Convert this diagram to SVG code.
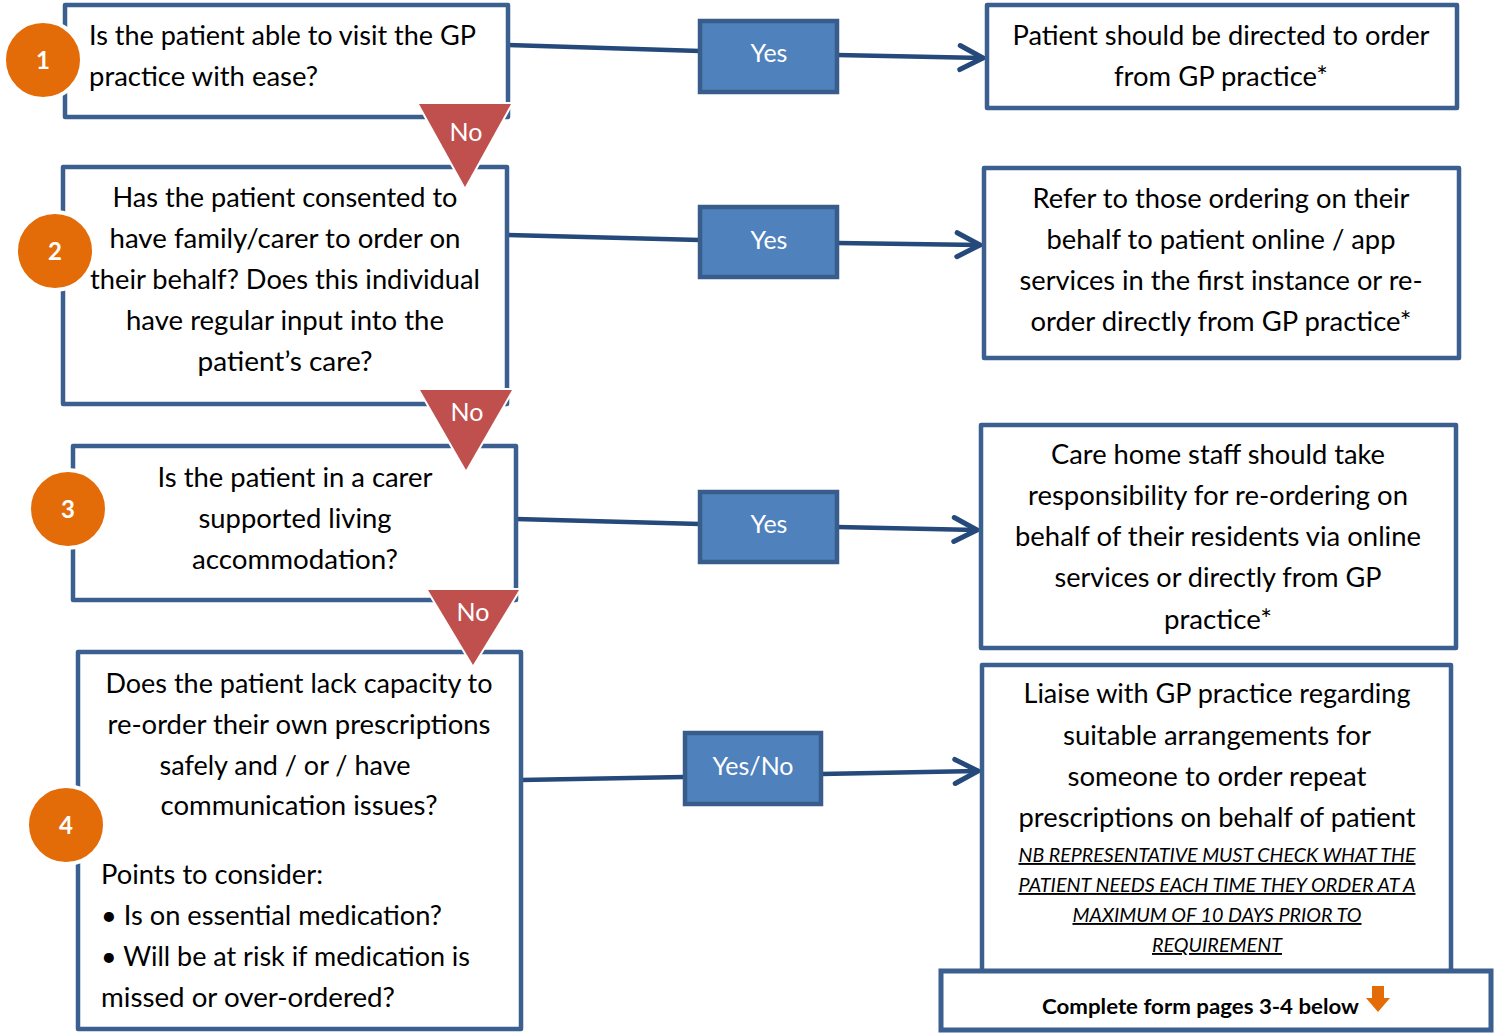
<svg xmlns="http://www.w3.org/2000/svg" width="1495" height="1034" viewBox="0 0 1495 1034">
<defs>
<style>
.box{fill:#fff;stroke:#3B5F8F;stroke-width:4.5;stroke-linejoin:round}
.yes{fill:#4F81BD;stroke:#385D8A;stroke-width:4.5}
.tri{fill:#C0504D;stroke:#fff;stroke-width:4;paint-order:stroke}
.num{fill:#E36C09;stroke:#fff;stroke-width:4}
.t{font-family:Lato,"Open Sans",sans-serif;font-size:26px;fill:#000}
.c{text-anchor:middle}
.w{font-family:Lato,"Open Sans",sans-serif;font-size:25px;fill:#fff;text-anchor:middle}
.n{font-family:Lato,"Open Sans",sans-serif;font-size:24px;font-weight:bold;fill:#fff;text-anchor:middle}
.nb{font-family:Lato,"Open Sans",sans-serif;font-size:19px;font-style:italic;text-decoration:underline;fill:#000;text-anchor:middle}
.con{fill:none;stroke:#24497A;stroke-width:4.5;stroke-linecap:round}
</style>
<marker id="arr" markerUnits="userSpaceOnUse" viewBox="-30 -16 34 32" refX="0" refY="0" markerWidth="34" markerHeight="32" orient="auto" overflow="visible">
<path d="M-23,-12 L0,0 L-23,12" fill="none" stroke="#24497A" stroke-width="5" stroke-linecap="round" stroke-linejoin="round"/>
</marker>
</defs>
<rect width="1495" height="1034" fill="#fff"/>

<g id="connectors">
<path class="con" d="M508,45 L700,51"/>
<path class="con" d="M837,55 L983,58" marker-end="url(#arr)"/>
<path class="con" d="M507,235 L700,240"/>
<path class="con" d="M837,243 L980,245" marker-end="url(#arr)"/>
<path class="con" d="M516,519 L700,524"/>
<path class="con" d="M837,527 L977,530" marker-end="url(#arr)"/>
<path class="con" d="M521,780 L684,777"/>
<path class="con" d="M821,774 L978,771" marker-end="url(#arr)"/>
</g>

<g id="q1">
<rect class="box" x="65" y="5" width="443" height="112"/>
<text class="t" x="89" y="45" textLength="387" lengthAdjust="spacingAndGlyphs">Is the patient able to visit the GP</text>
<text class="t" x="89" y="86" textLength="229" lengthAdjust="spacingAndGlyphs">practice with ease?</text>
</g>
<g id="q2">
<rect class="box" x="63" y="167" width="444" height="237"/>
<text class="t c" x="285" y="207" textLength="345" lengthAdjust="spacingAndGlyphs">Has the patient consented to</text>
<text class="t c" x="285" y="248" textLength="351" lengthAdjust="spacingAndGlyphs">have family/carer to order on</text>
<text class="t c" x="285" y="289" textLength="390" lengthAdjust="spacingAndGlyphs">their behalf? Does this individual</text>
<text class="t c" x="285" y="330" textLength="318" lengthAdjust="spacingAndGlyphs">have regular input into the</text>
<text class="t c" x="285" y="371" textLength="175" lengthAdjust="spacingAndGlyphs">patient’s care?</text>
</g>
<g id="q3">
<rect class="box" x="73" y="446" width="443" height="154"/>
<text class="t c" x="295" y="487" textLength="275" lengthAdjust="spacingAndGlyphs">Is the patient in a carer</text>
<text class="t c" x="295" y="528" textLength="193" lengthAdjust="spacingAndGlyphs">supported living</text>
<text class="t c" x="295" y="569" textLength="206" lengthAdjust="spacingAndGlyphs">accommodation?</text>
</g>
<g id="q4">
<rect class="box" x="78" y="652" width="443" height="377"/>
<text class="t c" x="299" y="693" textLength="387" lengthAdjust="spacingAndGlyphs">Does the patient lack capacity to</text>
<text class="t c" x="299" y="734" textLength="383" lengthAdjust="spacingAndGlyphs">re-order their own prescriptions</text>
<text class="t c" x="285" y="775" textLength="251" lengthAdjust="spacingAndGlyphs">safely and / or / have</text>
<text class="t c" x="299" y="815" textLength="277" lengthAdjust="spacingAndGlyphs">communication issues?</text>
<text class="t" x="101" y="884" textLength="222" lengthAdjust="spacingAndGlyphs">Points to consider:</text>
<text class="t" x="101" y="925" textLength="341" lengthAdjust="spacingAndGlyphs">• Is on essential medication?</text>
<text class="t" x="101" y="966" textLength="369" lengthAdjust="spacingAndGlyphs">• Will be at risk if medication is</text>
<text class="t" x="101" y="1007" textLength="294" lengthAdjust="spacingAndGlyphs">missed or over-ordered?</text>
</g>

<g id="n1"><circle class="num" cx="43" cy="60" r="39"/><text class="n" x="43" y="69">1</text></g>
<g id="n2"><circle class="num" cx="55" cy="251" r="39"/><text class="n" x="55" y="260">2</text></g>
<g id="n3"><circle class="num" cx="68" cy="509" r="39"/><text class="n" x="68" y="518">3</text></g>
<g id="n4"><circle class="num" cx="66" cy="825" r="39"/><text class="n" x="66" y="834">4</text></g>

<g id="no1"><polygon class="tri" points="419,104 511,104 465,187"/><text class="w" x="466" y="141">No</text></g>
<g id="no2"><polygon class="tri" points="420,390 512,390 466,470"/><text class="w" x="467" y="421">No</text></g>
<g id="no3"><polygon class="tri" points="428,590 519,590 473,665"/><text class="w" x="473" y="621">No</text></g>

<g id="yes1"><rect class="yes" x="700" y="21" width="137" height="71"/><text class="w" x="769" y="62">Yes</text></g>
<g id="yes2"><rect class="yes" x="700" y="207" width="137" height="70"/><text class="w" x="769" y="249">Yes</text></g>
<g id="yes3"><rect class="yes" x="700" y="492" width="137" height="70"/><text class="w" x="769" y="533">Yes</text></g>
<g id="yesno"><rect class="yes" x="685" y="733" width="136" height="71"/><text class="w" x="753" y="775">Yes/No</text></g>

<g id="r1">
<rect class="box" x="987" y="5" width="470" height="103"/>
<text class="t c" x="1221" y="45" textLength="417" lengthAdjust="spacingAndGlyphs">Patient should be directed to order</text>
<text class="t c" x="1221" y="86" textLength="214" lengthAdjust="spacingAndGlyphs">from GP practice*</text>
</g>
<g id="r2">
<rect class="box" x="984" y="168" width="475" height="190"/>
<text class="t c" x="1221" y="208" textLength="377" lengthAdjust="spacingAndGlyphs">Refer to those ordering on their</text>
<text class="t c" x="1221" y="249" textLength="349" lengthAdjust="spacingAndGlyphs">behalf to patient online / app</text>
<text class="t c" x="1221" y="290" textLength="403" lengthAdjust="spacingAndGlyphs">services in the first instance or re-</text>
<text class="t c" x="1221" y="331" textLength="381" lengthAdjust="spacingAndGlyphs">order directly from GP practice*</text>
</g>
<g id="r3">
<rect class="box" x="981" y="425" width="475" height="223"/>
<text class="t c" x="1218" y="464" textLength="334" lengthAdjust="spacingAndGlyphs">Care home staff should take</text>
<text class="t c" x="1218" y="505" textLength="380" lengthAdjust="spacingAndGlyphs">responsibility for re-ordering on</text>
<text class="t c" x="1218" y="546" textLength="406" lengthAdjust="spacingAndGlyphs">behalf of their residents via online</text>
<text class="t c" x="1218" y="587" textLength="327" lengthAdjust="spacingAndGlyphs">services or directly from GP</text>
<text class="t c" x="1218" y="629" textLength="108" lengthAdjust="spacingAndGlyphs">practice*</text>
</g>
<g id="r4">
<rect class="box" x="982" y="665" width="469" height="330"/>
<text class="t c" x="1217" y="703" textLength="387" lengthAdjust="spacingAndGlyphs">Liaise with GP practice regarding</text>
<text class="t c" x="1217" y="745" textLength="308" lengthAdjust="spacingAndGlyphs">suitable arrangements for</text>
<text class="t c" x="1217" y="786" textLength="299" lengthAdjust="spacingAndGlyphs">someone to order repeat</text>
<text class="t c" x="1217" y="827" textLength="397" lengthAdjust="spacingAndGlyphs">prescriptions on behalf of patient</text>
<text class="nb" x="1217" y="862" textLength="397" lengthAdjust="spacingAndGlyphs">NB REPRESENTATIVE MUST CHECK WHAT THE</text>
<text class="nb" x="1217" y="892" textLength="397" lengthAdjust="spacingAndGlyphs">PATIENT NEEDS EACH TIME THEY ORDER AT A</text>
<text class="nb" x="1217" y="922" textLength="289" lengthAdjust="spacingAndGlyphs">MAXIMUM OF 10 DAYS PRIOR TO</text>
<text class="nb" x="1217" y="952" textLength="130" lengthAdjust="spacingAndGlyphs">REQUIREMENT</text>
</g>
<g id="final">
<rect x="941" y="971" width="550" height="59" fill="#fff" stroke="#3B5F8F" stroke-width="5"/>
<text x="1042" y="1014" font-family="Lato,'Open Sans',sans-serif" font-size="21" font-weight="bold" fill="#000" textLength="317" lengthAdjust="spacingAndGlyphs">Complete form pages 3-4 below</text>
<polygon points="1372,986 1384,986 1384,998 1390,998 1378,1012 1366,998 1372,998" fill="#E36C09"/>
</g>
</svg>
